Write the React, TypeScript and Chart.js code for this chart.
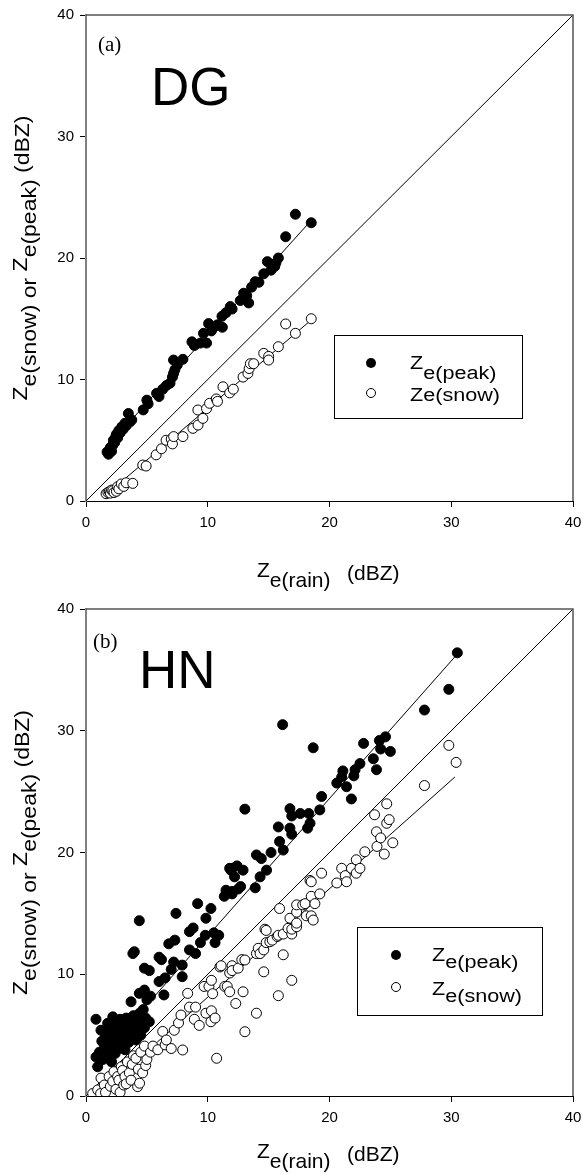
import React, { useEffect, useRef } from 'react';
import { Chart, registerables } from 'chart.js';

Chart.register(...registerables);

// ---------------- DATA ----------------
const AXIS_MIN = 0;
const AXIS_MAX = 40;
const TICK_STEP = 10;

// Panel (a) DG
const dgPeakRain = [1.73, 1.85, 1.95, 2.0, 2.1, 2.2, 2.25, 2.35, 2.45, 2.5, 2.6, 2.7, 2.8, 2.94, 3.05, 3.2, 3.3, 3.48, 3.6, 3.76, 4.7, 5.0, 5.1, 5.8, 6.0, 6.3, 6.6, 6.9, 7.1, 7.19, 7.3, 7.19, 7.5, 7.96, 8.7, 8.9, 9.4, 9.65, 9.9, 10.07, 10.3, 10.5, 10.8, 11.2, 11.17, 11.5, 11.85, 12.0, 12.67, 12.95, 13.36, 13.2, 13.6, 13.9, 14.2, 14.6, 14.9, 15.2, 15.5, 15.8, 15.6, 16.4, 17.2, 18.5];
const dgPeakZ = [4.03, 3.85, 4.2, 4.4, 4.1, 4.6, 5.0, 4.8, 5.3, 5.5, 5.2, 5.8, 5.6, 6.1, 5.9, 6.4, 6.2, 7.2, 6.5, 6.67, 7.5, 8.3, 8.0, 8.86, 8.6, 9.2, 9.5, 9.7, 10.2, 10.5, 10.8, 11.6, 11.2, 11.66, 13.1, 12.8, 13.0, 13.8, 13.0, 14.6, 14.0, 14.3, 14.5, 14.3, 15.2, 15.5, 16.0, 15.8, 16.5, 17.1, 16.3, 16.9, 17.6, 18.05, 18.0, 18.7, 19.7, 19.0, 19.3, 20.0, 19.6, 21.75, 23.6, 22.9];
const dgSnowRain = [1.65, 1.8, 1.92, 2.0, 2.1, 2.2, 2.3, 2.5, 2.6, 2.7, 2.9, 3.1, 3.3, 3.84, 4.66, 4.94, 5.76, 6.2, 6.58, 7.0, 7.1, 7.2, 7.96, 8.78, 9.2, 9.19, 9.6, 9.9, 10.15, 10.7, 10.8, 11.25, 11.8, 12.1, 12.9, 13.3, 13.4, 13.5, 13.77, 14.6, 15.0, 15.0, 15.8, 16.4, 17.2, 18.5];
const dgSnowZ = [0.6, 0.7, 0.77, 0.65, 0.9, 0.85, 0.7, 0.8, 1.18, 1.0, 1.4, 1.2, 1.5, 1.45, 2.96, 2.88, 3.8, 4.3, 5.0, 5.1, 4.7, 5.3, 5.3, 5.98, 6.25, 7.49, 6.8, 7.6, 8.04, 8.4, 8.2, 9.4, 8.9, 9.2, 10.2, 10.5, 10.9, 11.3, 11.3, 12.15, 11.9, 11.6, 12.7, 14.57, 13.8, 15.0];
const dgPeakFitRain = [1.6, 18.5];
const dgPeakFitZ = [4.3, 23.1];
const dgSnowFitRain = [1.7, 18.5];
const dgSnowFitZ = [0.55, 14.9];

// Panel (b) HN
const hnPeakRain = [0.82, 0.82, 0.96, 1.1, 1.23, 1.3, 1.4, 1.5, 1.6, 1.7, 1.78, 1.9, 1.9, 2.0, 2.1, 2.2, 2.2, 2.3, 2.4, 2.5, 2.5, 2.6, 2.7, 2.8, 2.8, 2.9, 3.0, 3.0, 3.1, 3.2, 3.3, 3.3, 3.4, 3.5, 3.6, 3.7, 3.7, 3.8, 3.9, 4.0, 4.1, 4.2, 4.3, 4.38, 4.4, 4.5, 4.6, 4.7, 4.8, 4.8, 4.9, 5.0, 5.2, 5.3, 3.85, 3.97, 4.38, 4.8, 5.2, 6.0, 6.0, 6.2, 6.4, 6.5, 6.8, 7.0, 7.2, 7.3, 7.39, 7.9, 7.9, 8.5, 8.5, 8.8, 9.0, 9.17, 9.4, 9.8, 9.85, 10.26, 10.5, 10.6, 10.9, 11.36, 11.5, 11.8, 11.9, 12.0, 12.0, 12.0, 12.2, 12.4, 12.5, 12.7, 12.9, 13.05, 13.9, 14.0, 14.3, 14.4, 14.83, 15.2, 15.8, 15.9, 16.15, 16.2, 16.75, 16.75, 16.9, 16.9, 17.6, 18.2, 18.3, 18.4, 18.66, 19.2, 19.35, 20.6, 21.0, 21.1, 21.4, 21.8, 22.0, 22.1, 22.5, 22.8, 23.6, 23.86, 24.1, 24.2, 24.6, 25.0, 27.8, 29.8, 30.5];
const hnPeakZ = [6.3, 3.2, 2.4, 3.6, 5.4, 4.5, 3.0, 3.9, 5.0, 4.2, 5.97, 4.6, 3.4, 5.5, 2.8, 6.5, 4.0, 5.1, 3.5, 6.0, 4.5, 5.6, 3.9, 6.3, 4.9, 5.3, 4.2, 6.1, 5.7, 3.8, 4.8, 6.4, 5.2, 4.4, 6.0, 5.5, 7.74, 4.9, 6.6, 5.8, 4.6, 6.2, 5.3, 8.43, 6.8, 5.0, 6.0, 7.1, 5.6, 8.7, 6.4, 7.9, 6.1, 8.2, 11.7, 11.85, 14.4, 10.5, 10.3, 9.4, 11.4, 11.2, 8.3, 9.7, 12.5, 10.4, 11.0, 12.8, 15.0, 10.75, 9.8, 12.0, 13.5, 13.8, 11.7, 15.8, 12.6, 13.2, 14.6, 15.4, 13.4, 12.6, 13.2, 16.4, 16.9, 18.7, 18.55, 16.6, 18.7, 16.8, 18.0, 18.9, 17.0, 17.2, 18.55, 23.56, 17.1, 19.8, 18.0, 19.5, 18.55, 20.0, 22.1, 20.9, 30.5, 20.2, 23.6, 22.0, 23.0, 21.5, 23.2, 22.0, 23.2, 22.4, 28.6, 23.5, 24.6, 25.7, 26.2, 26.7, 25.4, 24.4, 26.3, 26.8, 27.3, 28.96, 27.7, 26.8, 29.2, 28.5, 29.5, 28.3, 31.7, 33.4, 36.4];
const hnSnowRain = [0.55, 0.96, 1.2, 1.23, 1.5, 1.6, 1.9, 2.0, 2.2, 2.3, 2.46, 2.6, 2.7, 2.8, 2.9, 3.0, 3.1, 3.2, 3.3, 3.4, 3.56, 3.7, 3.8, 3.9, 4.1, 4.24, 4.3, 4.4, 4.5, 4.65, 4.8, 4.9, 5.0, 5.3, 5.5, 5.9, 6.3, 6.5, 6.6, 7.0, 7.25, 7.6, 7.8, 7.94, 8.35, 8.5, 8.9, 9.0, 9.3, 9.7, 9.85, 10.1, 10.26, 10.3, 10.3, 10.4, 10.6, 10.73, 11.0, 11.1, 11.4, 11.6, 11.8, 11.8, 12.0, 12.0, 12.3, 12.5, 12.8, 12.9, 13.05, 13.05, 14.0, 14.0, 14.15, 14.3, 14.6, 14.6, 14.7, 14.8, 14.8, 15.1, 15.3, 15.7, 15.8, 15.8, 15.9, 16.2, 16.2, 16.6, 16.75, 16.9, 16.9, 16.9, 17.3, 17.3, 17.3, 17.3, 17.8, 18.0, 18.1, 18.4, 18.5, 18.5, 18.5, 18.66, 18.8, 19.2, 19.35, 20.6, 21.0, 21.3, 21.4, 21.8, 22.2, 22.2, 22.5, 22.9, 23.7, 23.86, 23.9, 24.2, 24.5, 24.7, 24.7, 24.9, 25.2, 27.8, 29.8, 30.4];
const hnSnowZ = [0.2, 0.5, 0.2, 1.47, 0.9, 0.3, 1.6, 0.8, 1.2, 2.0, 0.55, 1.6, 1.3, 0.3, 2.4, 2.1, 0.9, 1.6, 1.0, 2.8, 1.9, 1.3, 2.6, 3.3, 3.1, 0.77, 2.2, 1.05, 3.6, 1.9, 4.1, 2.5, 3.0, 3.6, 4.1, 3.8, 5.3, 4.2, 4.6, 3.9, 5.4, 6.0, 6.65, 3.78, 8.43, 7.3, 6.3, 7.3, 5.8, 9.0, 6.8, 9.0, 6.1, 9.5, 7.0, 8.4, 6.4, 3.1, 10.6, 10.7, 9.0, 9.0, 8.56, 10.1, 10.7, 10.3, 7.6, 10.5, 11.2, 8.56, 5.28, 11.17, 6.8, 11.7, 12.13, 11.7, 12.0, 10.2, 13.7, 12.6, 13.6, 12.67, 12.8, 13.1, 13.2, 8.24, 15.4, 13.3, 11.6, 13.77, 14.6, 13.3, 9.5, 13.7, 13.9, 15.1, 15.7, 14.2, 15.7, 15.8, 14.8, 17.7, 16.4, 17.6, 14.8, 14.45, 15.8, 16.6, 18.3, 17.5, 18.7, 18.1, 17.6, 18.7, 19.4, 18.3, 18.7, 20.06, 23.1, 21.7, 20.5, 21.2, 19.87, 24.0, 22.4, 22.7, 20.8, 25.5, 28.8, 27.4];
const hnPeakFitRain = [0.5, 30.5];
const hnPeakFitZ = [2.4, 36.3];
const hnSnowFitRain = [1.0, 30.3];
const hnSnowFitZ = [0.1, 26.2];

const oneToOneRain = [0, 40];
const oneToOneZ = [0, 40];

// ---------------- HELPERS ----------------
const SANS = "'Liberation Sans', Arial, sans-serif";
const SERIF = "'Liberation Serif', 'Times New Roman', serif";

type Seg = { t: string; dy: number };

function pts(xs: number[], ys: number[]) {
  return xs.map((x, i) => ({ x, y: ys[i] }));
}

function richWidth(ctx: CanvasRenderingContext2D, segs: Seg[], font: string, sx: number) {
  ctx.save();
  ctx.font = font;
  let w = 0;
  segs.forEach((s) => (w += ctx.measureText(s.t).width * sx));
  ctx.restore();
  return w;
}

function drawRich(ctx: CanvasRenderingContext2D, segs: Seg[], x: number, y: number, font: string, sx: number) {
  let cx = x;
  ctx.save();
  ctx.font = font;
  ctx.fillStyle = '#000';
  ctx.textBaseline = 'alphabetic';
  ctx.textAlign = 'left';
  segs.forEach((s) => {
    ctx.save();
    ctx.translate(cx, y + s.dy);
    ctx.scale(sx, 1);
    ctx.fillText(s.t, 0, 0);
    ctx.restore();
    cx += ctx.measureText(s.t).width * sx;
  });
  ctx.restore();
}

type PanelCfg = {
  height: number;
  padTop: number;
  xAxisH: number;
  peakRain: number[];
  peakZ: number[];
  snowRain: number[];
  snowZ: number[];
  peakFitRain: number[];
  peakFitZ: number[];
  snowFitRain: number[];
  snowFitZ: number[];
  tag: string;
  tagPos: [number, number];
  site: string;
  sitePos: [number, number];
  legendBox: [number, number, number, number];
  legendMarkerX: number;
  legendRows: [number, number];
  legendTextX: number;
  legendSub: number;
  legendSnowSub: boolean;
  xTitleBase: number;
};

function makeOverlay(cfg: PanelCfg) {
  return {
    id: 'overlay',
    afterDraw(chart: any) {
      const ctx: CanvasRenderingContext2D = chart.ctx;
      const a = chart.chartArea;
      // frame (top/right)
      ctx.save();
      ctx.strokeStyle = '#555';
      ctx.lineWidth = 1.5;
      ctx.beginPath();
      ctx.moveTo(a.left, a.top);
      ctx.lineTo(a.right, a.top);
      ctx.lineTo(a.right, a.bottom);
      ctx.stroke();
      ctx.restore();

      // tag and site
      ctx.save();
      ctx.fillStyle = '#000';
      ctx.font = `21px ${SERIF}`;
      ctx.fillText(cfg.tag, cfg.tagPos[0], cfg.tagPos[1]);
      ctx.font = `53px ${SANS}`;
      ctx.fillText(cfg.site, cfg.sitePos[0], cfg.sitePos[1]);
      ctx.restore();

      // legend
      const [lx, ly, lw, lh] = cfg.legendBox;
      ctx.save();
      ctx.strokeStyle = '#000';
      ctx.lineWidth = 1;
      ctx.strokeRect(lx + 0.5, ly + 0.5, lw, lh);
      ctx.lineWidth = 1;
      ctx.fillStyle = '#000';
      ctx.beginPath();
      ctx.arc(cfg.legendMarkerX, cfg.legendRows[0], 5, 0, Math.PI * 2);
      ctx.fill();
      ctx.fillStyle = '#fff';
      ctx.beginPath();
      ctx.arc(cfg.legendMarkerX, cfg.legendRows[1], 4.5, 0, Math.PI * 2);
      ctx.fill();
      ctx.stroke();
      ctx.restore();
      const lf = `18px ${SANS}`;
      drawRich(ctx, [{ t: 'Z', dy: 0 }, { t: 'e(peak)', dy: cfg.legendSub }], cfg.legendTextX, cfg.legendRows[0] + 6, lf, 1.2);
      drawRich(
        ctx,
        [{ t: 'Z', dy: 0 }, { t: 'e(snow)', dy: cfg.legendSnowSub ? cfg.legendSub : 0 }],
        cfg.legendTextX,
        cfg.legendRows[1] + 8,
        lf,
        1.2
      );

      // x title
      const xf = `21px ${SANS}`;
      drawRich(ctx, [{ t: 'Z', dy: 0 }, { t: 'e(rain)', dy: 10 }], 257, cfg.xTitleBase, xf, 1);
      drawRich(ctx, [{ t: '(dBZ)', dy: 0 }], 347, cfg.xTitleBase + 3, xf, 1);

      // y title
      const yf = `20px ${SANS}`;
      const ysegs: Seg[] = [
        { t: 'Z', dy: 0 },
        { t: 'e(snow)', dy: 9 },
        { t: ' or ', dy: 9 },
        { t: 'Z', dy: 0 },
        { t: 'e(peak)', dy: 9 },
        { t: ' (dBZ)', dy: 2 },
      ];
      const w = richWidth(ctx, ysegs, yf, 1.15);
      const cy = (a.top + a.bottom) / 2;
      ctx.save();
      ctx.translate(27, cy);
      ctx.rotate(-Math.PI / 2);
      drawRich(ctx, ysegs, -w / 2, 0, yf, 1.15);
      ctx.restore();
    },
  };
}

function Panel({ cfg }: { cfg: PanelCfg }) {
  const ref = useRef<HTMLCanvasElement | null>(null);
  useEffect(() => {
    if (!ref.current) return;
    const lineDs = (xs: number[], ys: number[]) => ({
      data: pts(xs, ys),
      showLine: true,
      borderColor: '#000',
      borderWidth: 1,
      pointRadius: 0,
      fill: false,
      order: 3,
    });
    const chart = new Chart(ref.current, {
      type: 'scatter',
      data: {
        datasets: [
          {
            label: 'Ze(snow)',
            data: pts(cfg.snowRain, cfg.snowZ),
            backgroundColor: '#fff',
            borderColor: '#000',
            borderWidth: 1,
            pointRadius: 5,
            order: 1,
          },
          {
            label: 'Ze(peak)',
            data: pts(cfg.peakRain, cfg.peakZ),
            backgroundColor: '#000',
            borderColor: '#000',
            borderWidth: 1,
            pointRadius: 5,
            order: 2,
          },
          lineDs(cfg.peakFitRain, cfg.peakFitZ) as any,
          lineDs(cfg.snowFitRain, cfg.snowFitZ) as any,
          lineDs(oneToOneRain, oneToOneZ) as any,
        ],
      },
      options: {
        responsive: false,
        animation: false,
        devicePixelRatio: 1,
        events: [],
        layout: { padding: { top: cfg.padTop, right: 9, left: 0, bottom: 0 } },
        plugins: { legend: { display: false }, tooltip: { enabled: false } },
        scales: {
          x: {
            type: 'linear',
            min: AXIS_MIN,
            max: AXIS_MAX,
            ticks: { stepSize: TICK_STEP, color: '#000', font: { family: SANS, size: 15 }, padding: 7, maxRotation: 0 },
            grid: { drawOnChartArea: false, drawTicks: true, tickLength: 6, color: '#000', lineWidth: 1 },
            border: { display: true, color: '#000', width: 1 },
            afterFit: (s: any) => {
              s.height = cfg.xAxisH;
              s.paddingLeft = 0;
              s.paddingRight = 0;
            },
          },
          y: {
            type: 'linear',
            min: AXIS_MIN,
            max: AXIS_MAX,
            ticks: { stepSize: TICK_STEP, color: '#000', font: { family: SANS, size: 15 }, padding: 6 },
            grid: { drawOnChartArea: false, drawTicks: true, tickLength: 6, color: '#000', lineWidth: 1 },
            border: { display: true, color: '#808080', width: 2 },
            afterFit: (s: any) => {
              s.width = 86;
              s.paddingTop = 0;
              s.paddingBottom = 0;
            },
          },
        },
      },
      plugins: [makeOverlay(cfg)],
    } as any);
    return () => chart.destroy();
  }, [cfg]);
  return <canvas ref={ref} width={582} height={cfg.height} style={{ display: 'block' }} />;
}

const panelA: PanelCfg = {
  height: 600,
  padTop: 15,
  xAxisH: 99,
  peakRain: dgPeakRain,
  peakZ: dgPeakZ,
  snowRain: dgSnowRain,
  snowZ: dgSnowZ,
  peakFitRain: dgPeakFitRain,
  peakFitZ: dgPeakFitZ,
  snowFitRain: dgSnowFitRain,
  snowFitZ: dgSnowFitZ,
  tag: '(a)',
  tagPos: [98, 51],
  site: 'DG',
  sitePos: [151, 105],
  legendBox: [334, 335, 188, 83],
  legendMarkerX: 371,
  legendRows: [363, 393],
  legendTextX: 410,
  legendSub: 10,
  legendSnowSub: false,
  xTitleBase: 577,
};

const panelB: PanelCfg = {
  height: 575,
  padTop: 9,
  xAxisH: 79,
  peakRain: hnPeakRain,
  peakZ: hnPeakZ,
  snowRain: hnSnowRain,
  snowZ: hnSnowZ,
  peakFitRain: hnPeakFitRain,
  peakFitZ: hnPeakFitZ,
  snowFitRain: hnSnowFitRain,
  snowFitZ: hnSnowFitZ,
  tag: '(b)',
  tagPos: [93, 48],
  site: 'HN',
  sitePos: [139, 88],
  legendBox: [357, 327, 185, 88],
  legendMarkerX: 396,
  legendRows: [355, 387],
  legendTextX: 432,
  legendSub: 7,
  legendSnowSub: true,
  xTitleBase: 558,
};

export default function App() {
  return (
    <div style={{ position: 'absolute', left: 0, top: 0, width: 582, height: 1175, background: '#fff' }}>
      <Panel cfg={panelA} />
      <Panel cfg={panelB} />
    </div>
  );
}
